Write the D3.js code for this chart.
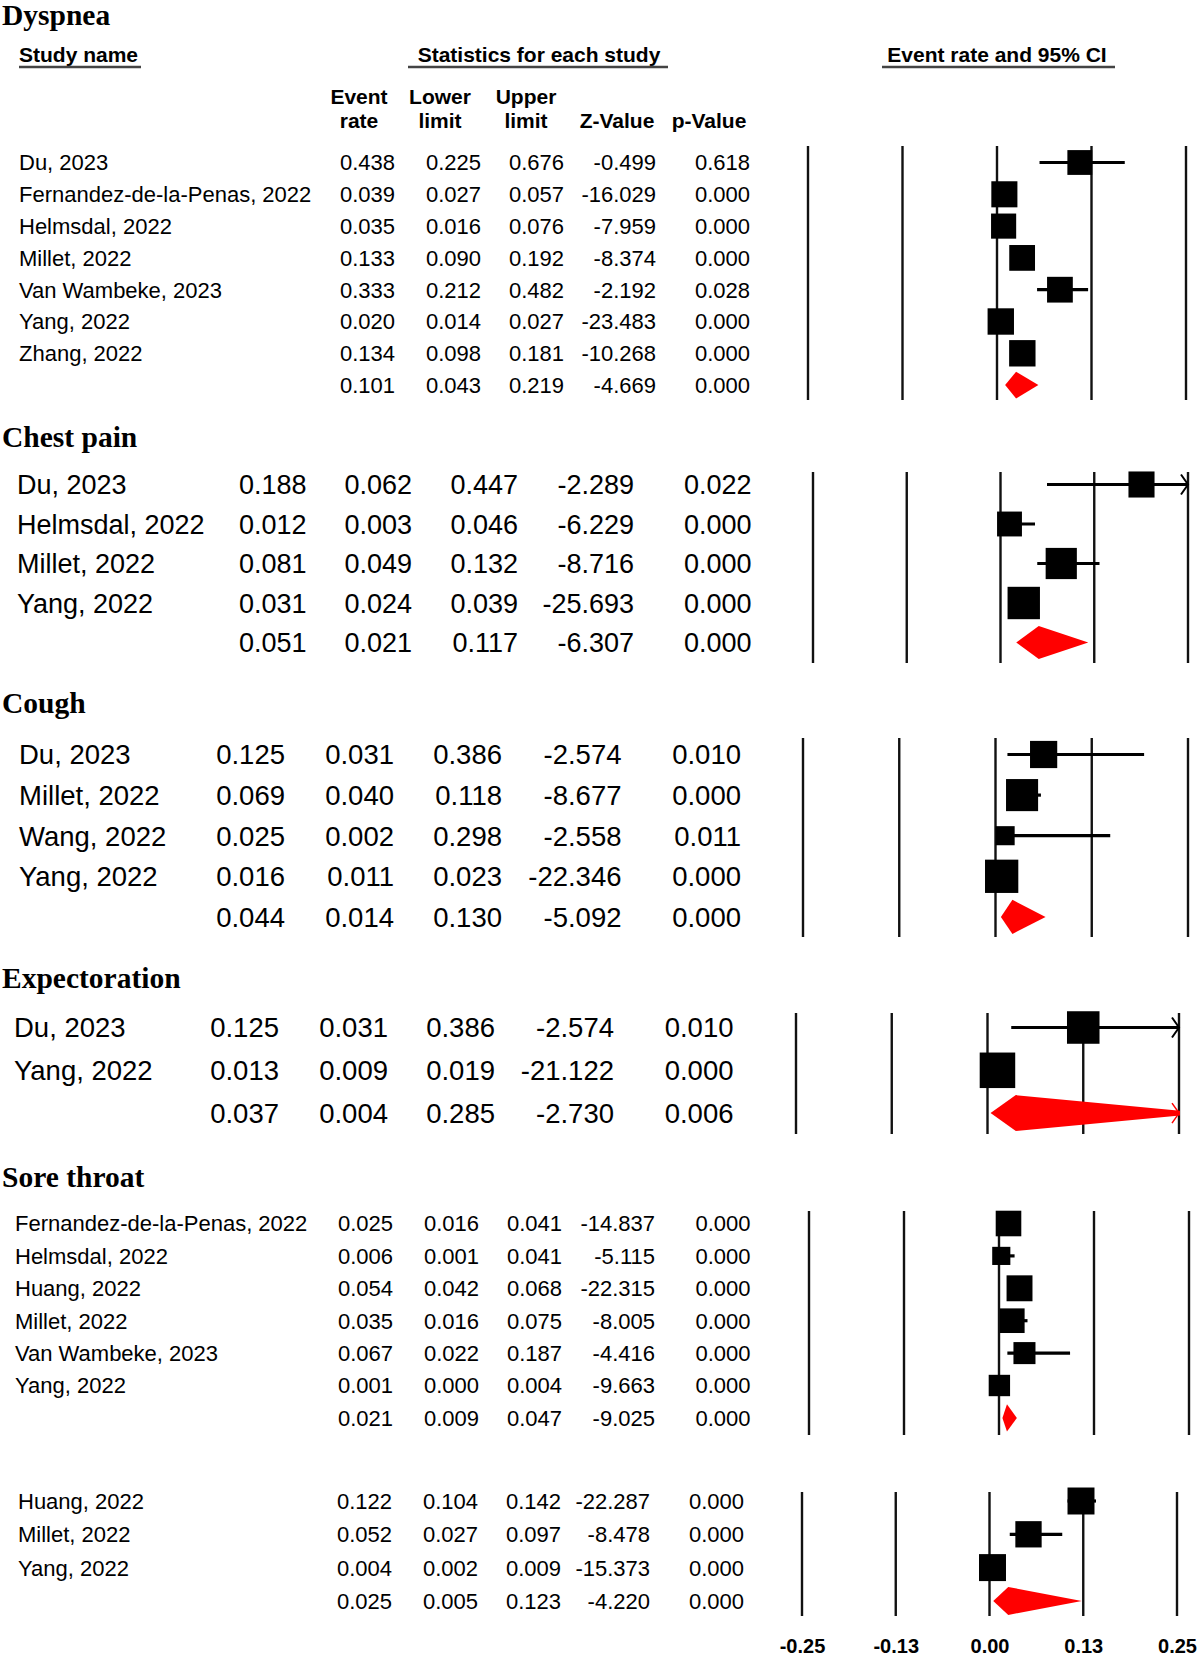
<!DOCTYPE html>
<html lang="en">
<head>
<meta charset="UTF-8">
<title>Forest plots</title>
<script src="https://d3js.org/d3.v7.min.js"></script>
<style>
  body { margin: 0; background: #fff; }
  svg { display: block; }
</style>
</head>
<body>
<div id="plot"></div>
<script>
// each study row: name, event rate, lower limit, upper limit, Z-value, p-value
const dyspneaRows = [
  ["Du, 2023", 0.438, 0.225, 0.676, -0.499, 0.618],
  ["Fernandez-de-la-Penas, 2022", 0.039, 0.027, 0.057, -16.029, 0.000],
  ["Helmsdal, 2022", 0.035, 0.016, 0.076, -7.959, 0.000],
  ["Millet, 2022", 0.133, 0.090, 0.192, -8.374, 0.000],
  ["Van Wambeke, 2023", 0.333, 0.212, 0.482, -2.192, 0.028],
  ["Yang, 2022", 0.020, 0.014, 0.027, -23.483, 0.000],
  ["Zhang, 2022", 0.134, 0.098, 0.181, -10.268, 0.000]
];
const dyspneaPooled = [0.101, 0.043, 0.219, -4.669, 0.000];
const dyspneaWeights = [0.78, 0.82, 0.79, 0.81, 0.81, 0.83, 0.83];

const chestRows = [
  ["Du, 2023", 0.188, 0.062, 0.447, -2.289, 0.022],
  ["Helmsdal, 2022", 0.012, 0.003, 0.046, -6.229, 0.000],
  ["Millet, 2022", 0.081, 0.049, 0.132, -8.716, 0.000],
  ["Yang, 2022", 0.031, 0.024, 0.039, -25.693, 0.000]
];
const chestPooled = [0.051, 0.021, 0.117, -6.307, 0.000];
const chestWeights = [0.66, 0.63, 0.79, 0.82];

const coughRows = [
  ["Du, 2023", 0.125, 0.031, 0.386, -2.574, 0.010],
  ["Millet, 2022", 0.069, 0.040, 0.118, -8.677, 0.000],
  ["Wang, 2022", 0.025, 0.002, 0.298, -2.558, 0.011],
  ["Yang, 2022", 0.016, 0.011, 0.023, -22.346, 0.000]
];
const coughPooled = [0.044, 0.014, 0.130, -5.092, 0.000];
const coughWeights = [0.67, 0.79, 0.47, 0.82];

const expectRows = [
  ["Du, 2023", 0.125, 0.031, 0.386, -2.574, 0.010],
  ["Yang, 2022", 0.013, 0.009, 0.019, -21.122, 0.000]
];
const expectPooled = [0.037, 0.004, 0.285, -2.730, 0.006];
const expectWeights = [0.76, 0.83];

const soreRows = [
  ["Fernandez-de-la-Penas, 2022", 0.025, 0.016, 0.041, -14.837, 0.000],
  ["Helmsdal, 2022", 0.006, 0.001, 0.041, -5.115, 0.000],
  ["Huang, 2022", 0.054, 0.042, 0.068, -22.315, 0.000],
  ["Millet, 2022", 0.035, 0.016, 0.075, -8.005, 0.000],
  ["Van Wambeke, 2023", 0.067, 0.022, 0.187, -4.416, 0.000],
  ["Yang, 2022", 0.001, 0.000, 0.004, -9.663, 0.000]
];
const sorePooled = [0.021, 0.009, 0.047, -9.025, 0.000];
const soreWeights = [0.79, 0.56, 0.80, 0.76, 0.68, 0.66];

const lastRows = [
  ["Huang, 2022", 0.122, 0.104, 0.142, -22.287, 0.000],
  ["Millet, 2022", 0.052, 0.027, 0.097, -8.478, 0.000],
  ["Yang, 2022", 0.004, 0.002, 0.009, -15.373, 0.000]
];
const lastPooled = [0.025, 0.005, 0.123, -4.220, 0.000];
const lastWeights = [0.81, 0.79, 0.81];

const tickValues = [-0.25, -0.125, 0, 0.125, 0.25];
const tickLabels = ["-0.25", "-0.13", "0.00", "0.13", "0.25"];
const gridFractions = [-1, -0.5, 0, 0.5, 1];

// layout of each block (half = half-width of the plotted domain)
const panels = [
  {title: "Dyspnea", rows: dyspneaRows, pooled: dyspneaPooled, weights: dyspneaWeights, half: 1,
   titleY: 25, rowY: 162.5, step: 31.8, font: 22, nameX: 19, cols: [395, 481, 564, 656, 750],
   left: 808, right: 1186, top: 146, bottom: 400},
  {title: "Chest pain", rows: chestRows, pooled: chestPooled, weights: chestWeights, half: 0.25,
   titleY: 447, rowY: 484.5, step: 39.5, font: 27, nameX: 17, cols: [306.5, 412, 518, 634, 751.5],
   left: 813, right: 1188, top: 472, bottom: 663},
  {title: "Cough", rows: coughRows, pooled: coughPooled, weights: coughWeights, half: 0.5,
   titleY: 713, rowY: 754.5, step: 40.6, font: 27.5, nameX: 19, cols: [285, 394, 502, 621.5, 741],
   left: 803, right: 1188, top: 738, bottom: 937},
  {title: "Expectoration", rows: expectRows, pooled: expectPooled, weights: expectWeights, half: 0.25,
   titleY: 988, rowY: 1027.5, step: 42.8, font: 27.5, nameX: 14, cols: [279, 388, 495, 614, 733.5],
   left: 796, right: 1179, top: 1013, bottom: 1134},
  {title: "Sore throat", rows: soreRows, pooled: sorePooled, weights: soreWeights, half: 0.5,
   titleY: 1187, rowY: 1223.5, step: 32.4, font: 22, nameX: 15, cols: [393, 479, 562, 655, 750.5],
   left: 809, right: 1189, top: 1211, bottom: 1435},
  {title: null, rows: lastRows, pooled: lastPooled, weights: lastWeights, half: 0.25,
   titleY: null, rowY: 1501, step: 33.3, font: 22, nameX: 18, cols: [392, 478, 561, 650, 744],
   left: 802, right: 1177, top: 1492, bottom: 1616}
];

const sans = '"Liberation Sans", Arial, Helvetica, sans-serif';
const serif = '"Liberation Serif", "Times New Roman", serif';
const fmt = v => v.toFixed(3);

const svg = d3.select('#plot').append('svg')
  .attr('width', 1200)
  .attr('height', 1656);

// header of the first block
const head = svg.append('g')
  .attr('font-family', sans)
  .attr('font-weight', 'bold')
  .attr('font-size', 21)
  .attr('fill', '#000');

[["Study name", 19], ["Statistics for each study", 539], ["Event rate and 95% CI", 997]]
  .forEach(([label, cx], i) => {
    head.append('text')
      .attr('x', cx)
      .attr('y', 62)
      .attr('text-anchor', i === 0 ? 'start' : 'middle')
      .text(label);
  });
[[19, 141], [408, 668], [882, 1115]].forEach(([a, b]) => {
  head.append('line')
    .attr('x1', a).attr('x2', b).attr('y1', 67).attr('y2', 67)
    .attr('stroke', '#444').attr('stroke-width', 2.5);
});
[["Event", "rate", 359], ["Lower", "limit", 440], ["Upper", "limit", 526], [null, "Z-Value", 617], [null, "p-Value", 709]]
  .forEach(([l1, l2, cx]) => {
    if (l1) head.append('text').attr('x', cx).attr('y', 104).attr('text-anchor', 'middle').text(l1);
    head.append('text').attr('x', cx).attr('y', 128).attr('text-anchor', 'middle').text(l2);
  });

panels.forEach((p, pi) => {
  const g = svg.append('g');
  const x = d3.scaleLinear().domain([-p.half, p.half]).range([p.left, p.right]);
  const rowY = i => p.rowY + i * p.step;

  if (p.title) {
    g.append('text')
      .attr('x', 2)
      .attr('y', p.titleY)
      .attr('font-family', serif)
      .attr('font-weight', 'bold')
      .attr('font-size', 29.5)
      .text(p.title);
  }

  // table
  const table = g.append('g')
    .attr('font-family', sans)
    .attr('font-size', p.font)
    .attr('fill', '#000');

  p.rows.forEach((r, i) => {
    table.append('text')
      .attr('x', p.nameX)
      .attr('y', rowY(i))
      .attr('dy', '0.36em')
      .text(r[0]);
    r.slice(1).forEach((v, j) => {
      table.append('text')
        .attr('x', p.cols[j])
        .attr('y', rowY(i))
        .attr('dy', '0.36em')
        .attr('text-anchor', 'end')
        .text(fmt(v));
    });
  });
  p.pooled.forEach((v, j) => {
    table.append('text')
      .attr('x', p.cols[j])
      .attr('y', rowY(p.rows.length))
      .attr('dy', '0.36em')
      .attr('text-anchor', 'end')
      .text(fmt(v));
  });

  // reference lines
  g.selectAll('line.grid')
    .data(gridFractions.map(f => f * p.half))
    .join('line')
    .attr('class', 'grid')
    .attr('x1', d => x(d)).attr('x2', d => x(d))
    .attr('y1', p.top).attr('y2', p.bottom)
    .attr('stroke', '#111')
    .attr('stroke-width', 2.4);

  const clipId = 'clip' + pi;
  svg.append('clipPath').attr('id', clipId)
    .append('rect')
    .attr('x', p.left).attr('y', p.top - 30)
    .attr('width', p.right - p.left + 1).attr('height', p.bottom - p.top + 60);
  const marks = g.append('g').attr('clip-path', `url(#${clipId})`);

  // confidence intervals
  p.rows.forEach((r, i) => {
    const y = rowY(i);
    marks.append('line')
      .attr('x1', x(r[2])).attr('x2', x(Math.min(r[3], p.half)))
      .attr('y1', y).attr('y2', y)
      .attr('stroke', '#000').attr('stroke-width', 3.2);
    if (r[3] > p.half) {
      g.append('path')
        .attr('d', `M${x(p.half) - 7},${y - 10}L${x(p.half)},${y}L${x(p.half) - 7},${y + 10}`)
        .attr('fill', 'none').attr('stroke', '#000').attr('stroke-width', 2);
    }
  });

  // boxes
  marks.selectAll('rect.box')
    .data(p.rows)
    .join('rect')
    .attr('class', 'box')
    .attr('x', (r, i) => x(r[1]) - p.weights[i] * p.step / 2)
    .attr('y', (r, i) => rowY(i) - p.weights[i] * p.step / 2)
    .attr('width', (r, i) => p.weights[i] * p.step)
    .attr('height', (r, i) => p.weights[i] * p.step)
    .attr('fill', '#000');

  // pooled diamond
  const py = rowY(p.rows.length);
  const h = p.step * 0.42;
  const [pe, pl, pu] = p.pooled;
  marks.append('path')
    .attr('d', `M${x(pl)},${py}L${x(pe)},${py - h}L${x(pu)},${py}L${x(pe)},${py + h}Z`)
    .attr('fill', '#ff0000');
  if (pu > p.half) {
    g.append('path')
      .attr('d', `M${x(p.half) - 7},${py - 10}L${x(p.half)},${py}L${x(p.half) - 7},${py + 10}`)
      .attr('fill', 'none').attr('stroke', '#ff0000').attr('stroke-width', 1.5);
  }
});

// bottom axis labels
const last = panels[panels.length - 1];
const axisScale = d3.scaleLinear()
  .domain([tickValues[0], tickValues[tickValues.length - 1]])
  .range([last.left, last.right]);

const axis = svg.append('g')
  .attr('transform', 'translate(0, 1639)')
  .call(d3.axisBottom(axisScale)
    .tickValues(tickValues)
    .tickFormat((d, i) => tickLabels[i])
    .tickSize(0)
    .tickPadding(0));
axis.select('.domain').remove();
axis.attr('font-family', sans).attr('font-size', 20).attr('font-weight', 'bold');
axis.selectAll('text').attr('fill', '#000');
</script>
</body>
</html>
